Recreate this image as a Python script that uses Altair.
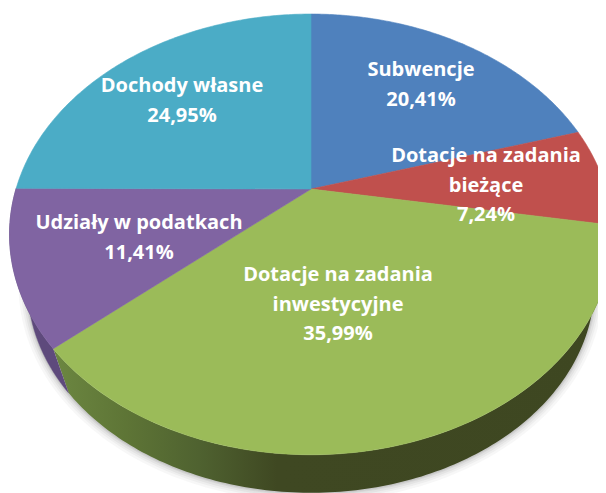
import math
import numpy as np
import pandas as pd
import altair as alt

names = ["Subwencje", "Dotacje na zadania\nbieżące", "Dotacje na zadania\ninwestycyjne", "Udziały w podatkach", "Dochody własne"]
values = [20.41, 7.24, 35.99, 11.41, 24.95]
colors = ["#4F81BD", "#C0504D", "#9BBB59", "#8064A2", "#4BACC6"]
value_text = ["20,41%", "7,24%", "35,99%", "11,41%", "24,95%"]
label_x = [421, 486, 338, 139, 182]
label_y = [70, 156, 275, 223, 86]

CX, CY = 311.0, 189.0
R, A, K = 295.0, 211.0, 0.206
WALL_S, WALL_DY = 0.94, 54.0

def top_edge(th, s=1.0, dy=0.0):
    w = 1 + K * np.cos(th)
    return CX + s * R * np.sin(th) / w, CY + dy - s * A * np.cos(th) / w

edges = np.concatenate([[0], np.cumsum(values)]) / sum(values) * 2 * math.pi

x_scale = alt.Scale(domain=[8, 598], range=[0, 590], nice=False, zero=False)
y_scale = alt.Scale(domain=[8, 493], range=[0, 485], nice=False, zero=False)

def poly(xs, ys, **mk):
    df = pd.DataFrame({"x": xs, "y": ys, "i": range(len(xs))})
    return alt.Chart(df).mark_line(clip=True, interpolate="linear", **mk).encode(
        x=alt.X("x:Q", scale=x_scale, axis=None),
        y=alt.Y("y:Q", scale=y_scale, axis=None),
        order=alt.Order("i:Q"),
    )

layers = []

# soft shadow under the outer rim
rim = np.linspace(math.radians(82), math.radians(275), 160)
rx, ry = top_edge(rim, WALL_S, WALL_DY)
for sw, op in [(18, 0.05), (13, 0.06), (9, 0.08), (5, 0.10), (2.5, 0.12)]:
    layers.append(poly(rx, ry, stroke="#606060", strokeWidth=sw, strokeOpacity=op, strokeCap="butt"))

# side wall
wall_fill = alt.Gradient(
    gradient="linear", x1=0, x2=1, y1=0, y2=0,
    stops=[
        alt.GradientStop(offset=0, color="#6C8741"),
        alt.GradientStop(offset=0.13, color="#5E7536"),
        alt.GradientStop(offset=0.26, color="#4F6230"),
        alt.GradientStop(offset=0.40, color="#3F4822"),
        alt.GradientStop(offset=1, color="#3E4721"),
    ],
)
th = np.linspace(edges[2], edges[3], 150)
tx, ty = top_edge(th)
bx, by = top_edge(th, WALL_S, WALL_DY)
layers.append(poly(np.r_[tx, bx[::-1]], np.r_[ty, by[::-1]], fill=wall_fill, stroke=None))
th = np.linspace(edges[3], edges[4], 60)
tx, ty = top_edge(th)
bx, by = top_edge(th, WALL_S, WALL_DY)
layers.append(poly(np.r_[tx, bx[::-1]], np.r_[ty, by[::-1]], fill="#5E4A7C", stroke="#5E4A7C", strokeWidth=0.5))

# top face
for i, c in enumerate(colors):
    th = np.linspace(edges[i], edges[i + 1], 120)
    ax, ay = top_edge(th)
    layers.append(poly(np.r_[CX, ax, CX], np.r_[CY, ay, CY], fill=c, stroke=c, strokeWidth=0.6))

labels = pd.DataFrame({
    "t": [n + "\n" + v for n, v in zip(names, value_text)],
    "x": label_x,
    "y": label_y,
})
layers.append(
    alt.Chart(labels).mark_text(
        font="Open Sans", fontWeight="bold", fontSize=20, color="white",
        lineBreak="\n", lineHeight=29.5, align="center", baseline="middle",
    ).encode(
        x=alt.X("x:Q", scale=x_scale, axis=None),
        y=alt.Y("y:Q", scale=y_scale, axis=None),
        text="t:N",
    )
)

chart = alt.layer(*layers).properties(
    width=590, height=485, padding=0, autosize=alt.AutoSizeParams(type="none")
).configure_view(stroke=None)
chart.save("out.html", embed_options={"renderer": "svg", "actions": False})
